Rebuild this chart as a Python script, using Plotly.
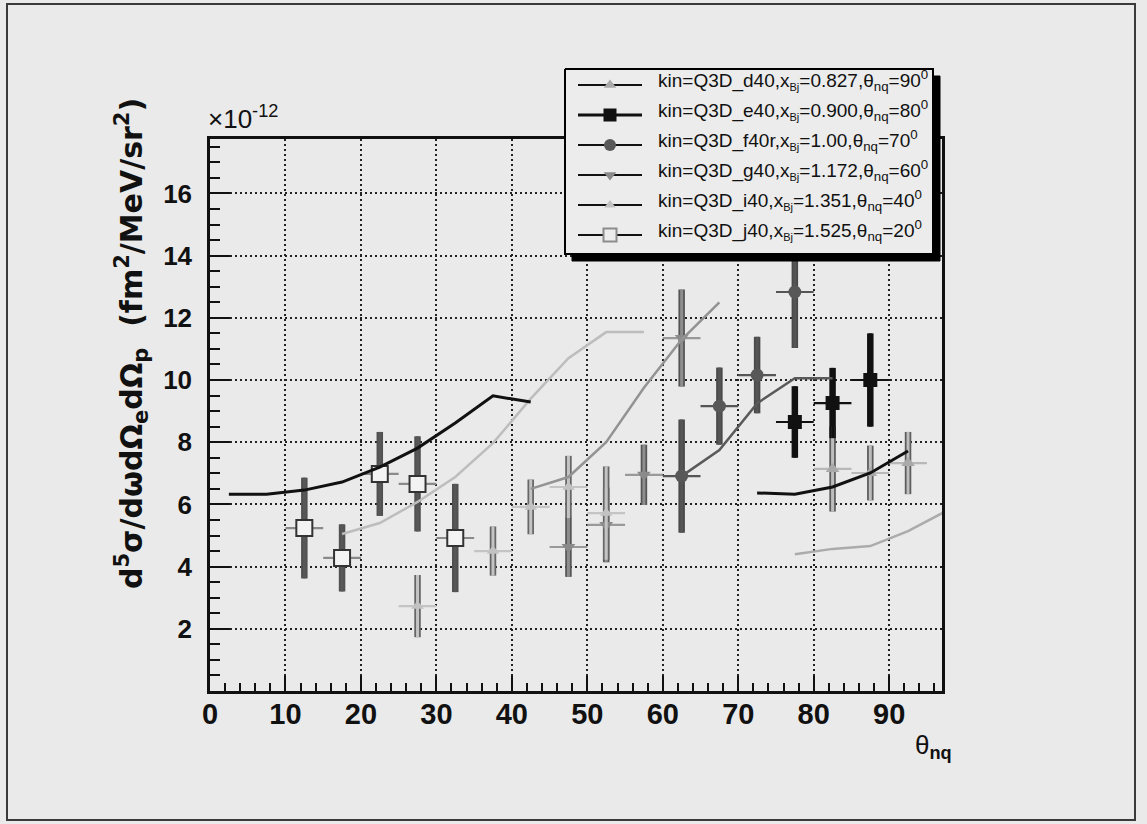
import plotly.graph_objects as go

# ---- measured cross sections (units of 1e-12 fm^2/MeV/sr^2) vs theta_nq (deg) ----
bin_halfwidth = 2.5

d40_theta = [82.5, 87.5, 92.5]
d40_xs = [7.14, 7.01, 7.33]
d40_err = [1.37, 0.88, 1.00]

e40_theta = [77.5, 82.5, 87.5]
e40_xs = [8.65, 9.26, 10.00]
e40_err = [1.15, 1.13, 1.50]

f40r_theta = [62.5, 67.5, 72.5, 77.5]
f40r_xs = [6.91, 9.16, 10.16, 12.83]
f40r_err = [1.82, 1.24, 1.23, 1.80]

g40_theta = [47.5, 52.5, 57.5, 62.5]
g40_xs = [4.63, 5.34, 6.95, 11.35]
g40_err = [0.96, 1.20, 0.97, 1.56]

i40_theta = [27.5, 37.5, 42.5, 47.5, 52.5]
i40_xs = [2.73, 4.50, 5.92, 6.56, 5.72]
i40_err = [1.00, 0.79, 0.88, 1.00, 1.50]

j40_theta = [12.5, 17.5, 22.5, 27.5, 32.5]
j40_xs = [5.24, 4.28, 6.98, 6.66, 4.92]
j40_err = [1.62, 1.08, 1.35, 1.53, 1.74]

# ---- model curves ----
d40_th_theta = [77.5, 82.5, 87.5, 92.5, 97.5]
d40_th_xs = [4.40, 4.57, 4.66, 5.14, 5.78]

e40_th_theta = [72.5, 77.5, 82.5, 87.5, 92.5]
e40_th_xs = [6.37, 6.33, 6.56, 7.01, 7.72]

f40r_th_theta = [62.5, 67.5, 72.5, 77.5, 82.5]
f40r_th_xs = [6.91, 7.75, 9.25, 10.06, 10.06]

g40_th_theta = [42.5, 47.5, 52.5, 57.5, 62.5, 67.5]
g40_th_xs = [6.50, 6.88, 8.00, 9.75, 11.30, 12.50]

i40_th_theta = [17.5, 22.5, 27.5, 32.5, 37.5, 42.5, 47.5, 52.5, 57.5]
i40_th_xs = [5.05, 5.40, 6.08, 6.88, 7.97, 9.40, 10.70, 11.54, 11.54]

j40_th_theta = [2.5, 7.5, 12.5, 17.5, 22.5, 27.5, 32.5, 37.5, 42.5]
j40_th_xs = [6.33, 6.33, 6.46, 6.72, 7.20, 7.81, 8.62, 9.49, 9.29]

BJ = "<sub><span style='font-size:11px'>Bj</span></sub>"
legend_labels = [
    "kin=Q3D_d40,x" + BJ + "=0.827,θ<sub>nq</sub>=90<sup>0</sup>",
    "kin=Q3D_e40,x" + BJ + "=0.900,θ<sub>nq</sub>=80<sup>0</sup>",
    "kin=Q3D_f40r,x" + BJ + "=1.00,θ<sub>nq</sub>=70<sup>0</sup>",
    "kin=Q3D_g40,x" + BJ + "=1.172,θ<sub>nq</sub>=60<sup>0</sup>",
    "kin=Q3D_i40,x" + BJ + "=1.351,θ<sub>nq</sub>=40<sup>0</sup>",
    "kin=Q3D_j40,x" + BJ + "=1.525,θ<sub>nq</sub>=20<sup>0</sup>",
]

x_ticks = [0, 10, 20, 30, 40, 50, 60, 70, 80, 90]
y_ticks = [2, 4, 6, 8, 10, 12, 14, 16]

BG = "#eaeaea"
FONT = "Liberation Sans"
W, H = 1147, 824
# frame of the main pad in pixels
PX0, PX1, PY0, PY1 = 210, 942, 139, 691

series = [
    dict(t=d40_theta, y=d40_xs, e=d40_err, ct=d40_th_theta, cy=d40_th_xs, sym="triangle-up",
         mc="#a9a9a9", core="#bdbdbd", edge="#5c5c5c", hc="#b8b8b8", lc="#ababab", lw=2.5, ms=12, mline=None),
    dict(t=e40_theta, y=e40_xs, e=e40_err, ct=e40_th_theta, cy=e40_th_xs, sym="square",
         mc="#111111", core="#111111", edge="#111111", hc="#111111", lc="#111111", lw=3, ms=14, mline=None),
    dict(t=f40r_theta, y=f40r_xs, e=f40r_err, ct=f40r_th_theta, cy=f40r_th_xs, sym="circle",
         mc="#585858", core="#555555", edge="#4a4a4a", hc="#555555", lc="#5a5a5a", lw=2.5, ms=13, mline=None),
    dict(t=g40_theta, y=g40_xs, e=g40_err, ct=g40_th_theta, cy=g40_th_xs, sym="triangle-down",
         mc="#8a8a8a", core="#8e8e8e", edge="#555555", hc="#999999", lc="#939393", lw=2.5, ms=12, mline=None),
    dict(t=i40_theta, y=i40_xs, e=i40_err, ct=i40_th_theta, cy=i40_th_xs, sym="triangle-up",
         mc="#c2c2c2", core="#c4c4c4", edge="#666666", hc="#c4c4c4", lc="#bdbdbd", lw=2.5, ms=11, mline=None),
    dict(t=j40_theta, y=j40_xs, e=j40_err, ct=j40_th_theta, cy=j40_th_xs, sym="square",
         mc="#f3f3f3", core="#575757", edge="#505050", hc="#8a8a8a", lc="#111111", lw=3, ms=16,
         mline=dict(color="#333333", width=2)),
]

fig = go.Figure()

# data points: thick outlined vertical bars, thin horizontal bin bars, markers
for s in series:
    fig.add_trace(go.Scatter(
        x=s["t"], y=s["y"], mode="markers", marker=dict(size=1, opacity=0),
        error_y=dict(type="data", array=s["e"], color=s["edge"], thickness=6.5, width=0),
        showlegend=False, hoverinfo="skip"))
for s in series:
    fig.add_trace(go.Scatter(
        x=s["t"], y=s["y"], mode="markers",
        marker=dict(symbol=s["sym"], size=s["ms"], color=s["mc"],
                    line=s["mline"] if s["mline"] else dict(width=0)),
        error_y=dict(type="data", array=s["e"], color=s["core"], thickness=3, width=0),
        error_x=dict(type="constant", value=bin_halfwidth, color=s["hc"], thickness=2.2, width=0),
        showlegend=False))
# model curves
for s in series:
    fig.add_trace(go.Scatter(
        x=s["ct"], y=s["cy"], mode="lines", line=dict(color=s["lc"], width=s["lw"]),
        showlegend=False, hoverinfo="skip"))

# ---- legend box on a full-canvas pixel overlay ----
LX0, LX1, LY0, LY1, SH = 565, 933, 69, 254, 7
fig.add_trace(go.Scatter(
    x=[LX0 + SH, LX1 + SH, LX1 + SH, LX0 + SH, LX0 + SH],
    y=[LY0 + SH, LY0 + SH, LY1 + SH, LY1 + SH, LY0 + SH],
    xaxis="x2", yaxis="y2", mode="lines", fill="toself", fillcolor="#000000",
    line=dict(color="#000000", width=1), showlegend=False, hoverinfo="skip"))
fig.add_trace(go.Scatter(
    x=[LX0, LX1, LX1, LX0, LX0], y=[LY0, LY0, LY1, LY1, LY0],
    xaxis="x2", yaxis="y2", mode="lines", fill="toself", fillcolor="#ececec",
    line=dict(color="#000000", width=2), showlegend=False, hoverinfo="skip"))

row_y0, row_dy = 85, 30
for k, (s, lab) in enumerate(zip(series, legend_labels)):
    ry = row_y0 + k * row_dy
    fig.add_trace(go.Scatter(
        x=[578, 642], y=[ry, ry], xaxis="x2", yaxis="y2", mode="lines",
        line=dict(color="#111111", width=3 if k == 1 else 2),
        showlegend=False, hoverinfo="skip"))
    lm = dict(symbol=s["sym"], size=s["ms"] - 1, color=s["mc"], line=dict(width=0))
    if s["mline"]:
        lm = dict(symbol="square", size=13, color="#ececec", line=dict(color="#8c8c8c", width=2))
    fig.add_trace(go.Scatter(
        x=[610], y=[ry], xaxis="x2", yaxis="y2", mode="markers", marker=lm,
        showlegend=False, hoverinfo="skip"))
    fig.add_annotation(x=656, y=ry - 5, xref="x2", yref="y2", text=lab, showarrow=False,
                       xanchor="left", yanchor="middle",
                       font=dict(family=FONT, size=19, color="#111111"))

# ---- axis decorations ----
fig.add_annotation(x=PX0 - 4, y=PY0 - 3, xref="x2", yref="y2", text="×10<sup>-12</sup>",
                   showarrow=False, xanchor="left", yanchor="bottom",
                   font=dict(family=FONT, size=26, color="#111111"))
fig.add_annotation(x=954, y=746, xref="x2", yref="y2", text="θ<sub><b>nq</b></sub>",
                   showarrow=False, xanchor="right", yanchor="middle",
                   font=dict(family=FONT, size=26, color="#111111"))
fig.add_annotation(x=131, y=344, xref="x2", yref="y2", textangle=-90,
                   text="<b>d<sup>5</sup>σ/dωdΩ<sub>e</sub>dΩ<sub>p</sub>  (fm<sup>2</sup>/MeV/sr<sup>2</sup>)</b>",
                   showarrow=False, xanchor="center", yanchor="middle",
                   font=dict(family="DejaVu Sans", size=30, color="#111111"))

fig.update_layout(
    width=W, height=H, margin=dict(l=0, r=0, t=0, b=0, autoexpand=False),
    paper_bgcolor=BG, plot_bgcolor="rgba(0,0,0,0)", showlegend=False,
    xaxis=dict(domain=[PX0 / W, PX1 / W], range=[0, 97], tickvals=x_ticks,
               showline=True, linecolor="#111111", linewidth=2.5, mirror=True,
               ticks="inside", ticklen=15, tickwidth=2, tickcolor="#111111",
               minor=dict(ticks="inside", dtick=2, ticklen=8, tickwidth=1.5, tickcolor="#111111"),
               showgrid=True, gridcolor="#222222", griddash="2px,3px", gridwidth=1.6,
               zeroline=False, ticklabelstandoff=-5,
               tickfont=dict(family=FONT, size=29, color="#111111", weight="bold")),
    yaxis=dict(domain=[1 - PY1 / H, 1 - PY0 / H], range=[0, 17.75], tickvals=y_ticks,
               showline=True, linecolor="#111111", linewidth=2.5, mirror=True,
               ticks="inside", ticklen=20, tickwidth=2, tickcolor="#111111",
               minor=dict(ticks="inside", dtick=0.5, ticklen=10, tickwidth=1.5, tickcolor="#111111"),
               showgrid=True, gridcolor="#222222", griddash="2px,3px", gridwidth=1.6,
               zeroline=False, ticklabelstandoff=10,
               tickfont=dict(family=FONT, size=26, color="#111111", weight="bold")),
    xaxis2=dict(domain=[0, 1], range=[0, W], visible=False, anchor="y2", fixedrange=True),
    yaxis2=dict(domain=[0, 1], range=[H, 0], visible=False, anchor="x2", fixedrange=True),
    shapes=[dict(type="rect", xref="paper", yref="paper", x0=7 / W, x1=1135 / W,
                 y0=1 - 820 / H, y1=1 - 4 / H, line=dict(color="#3a3a3a", width=2),
                 layer="below")],
)

fig.write_html("out.html")
